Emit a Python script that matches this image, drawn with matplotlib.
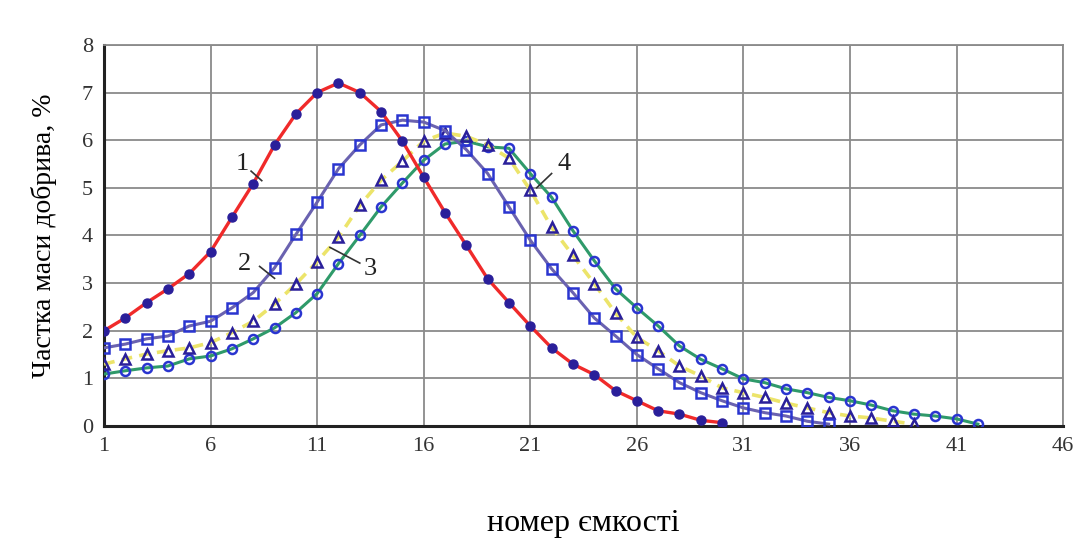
import matplotlib
matplotlib.use("Agg")
import matplotlib.pyplot as plt

plt.rcParams['font.family'] = ['Liberation Serif', 'DejaVu Serif']

# curve 1
x1 = list(range(1, 31))
y1 = [2.0, 2.27, 2.59, 2.88, 3.2, 3.66, 4.38, 5.09, 5.9, 6.55,
      7.0, 7.2, 7.0, 6.6, 5.98, 5.22, 4.48, 3.79, 3.09, 2.59,
      2.1, 1.64, 1.3, 1.08, 0.74, 0.53, 0.32, 0.25, 0.12, 0.07]
# curve 2
x2 = list(range(1, 36))
y2 = [1.64, 1.72, 1.83, 1.89, 2.1, 2.2, 2.48, 2.8, 3.32, 4.02,
      4.7, 5.4, 5.9, 6.32, 6.42, 6.38, 6.2, 5.8, 5.3, 4.6,
      3.9, 3.3, 2.8, 2.27, 1.89, 1.5, 1.2, 0.91, 0.7, 0.53,
      0.38, 0.28, 0.21, 0.1, 0.04]
# curve 3
x3 = list(range(1, 40))
y3 = [1.3, 1.41, 1.51, 1.58, 1.64, 1.75, 1.96, 2.2, 2.56, 2.98,
      3.45, 3.96, 4.63, 5.16, 5.56, 5.98, 6.15, 6.08, 5.9, 5.62,
      4.95, 4.17, 3.58, 2.99, 2.37, 1.86, 1.58, 1.26, 1.05, 0.8,
      0.7, 0.6, 0.48, 0.38, 0.28, 0.21, 0.17, 0.1, 0.04]
# curve 4
x4 = list(range(1, 43))
y4 = [1.09, 1.16, 1.22, 1.26, 1.41, 1.47, 1.62, 1.83, 2.06, 2.38,
      2.78, 3.41, 4.0, 4.6, 5.1, 5.58, 5.92, 5.98, 5.86, 5.83,
      5.3, 4.8, 4.1, 3.47, 2.88, 2.48, 2.1, 1.68, 1.4, 1.2,
      0.99, 0.91, 0.78, 0.7, 0.6, 0.53, 0.44, 0.32, 0.25, 0.21,
      0.15, 0.04]

xticks = [1, 6, 11, 16, 21, 26, 31, 36, 41, 46]
yticks = [0, 1, 2, 3, 4, 5, 6, 7, 8]

fig = plt.figure(figsize=(10.78, 5.54), dpi=100)
ax = fig.add_axes([0.0965, 0.231, 0.8897, 0.688])

navy = '#2a1f9a'
blue = '#2a35d0'

ax.plot(x4, y4, color='#2f9a6a', lw=2.2, marker='o', ms=6.5, mfc='none',
        mec=blue, mew=1.8, zorder=3)
ax.plot(x3, y3, color='#ece46a', lw=2.6, ls=(0, (3, 2)), marker='^', ms=6.5,
        mfc='none', mec=navy, mew=1.8, zorder=4)
ax.plot(x2, y2, color='#6a62b0', lw=2.2, marker='s', ms=6.5, mfc='none',
        mec=blue, mew=1.8, zorder=5)
ax.plot(x1, y1, color='#f02a2a', lw=2.4, marker='o', ms=6.5, mfc=navy,
        mec=navy, zorder=6)

ax.set_xlim(1, 46)
ax.set_ylim(0, 8)
ax.set_xticks(xticks)
ax.set_yticks(yticks)
ax.grid(True, color='#8a8a8a', lw=1.3)
ax.set_axisbelow(True)
ax.tick_params(length=0, labelsize=16, colors='#333333', pad=8)

for s in ['top', 'right']:
    ax.spines[s].set_color('#8a8a8a')
    ax.spines[s].set_linewidth(1.3)
for s in ['left', 'bottom']:
    ax.spines[s].set_color('#222222')
    ax.spines[s].set_linewidth(2.2)

# curve numbers with leader lines
lbl = [('1', 7.5, 5.5, 7.9, 5.35, 8.4, 5.15),
       ('2', 7.6, 3.4, 8.3, 3.35, 9.0, 3.1),
       ('3', 13.5, 3.3, 11.6, 3.75, 13.0, 3.42),
       ('4', 22.6, 5.5, 22.0, 5.3, 21.3, 5.0)]
for t, tx, ty, ax0, ay0, ax1, ay1 in lbl:
    ax.text(tx, ty, t, fontsize=19, ha='center', va='center', color='#222222', zorder=8)
    ax.plot([ax0, ax1], [ay0, ay1], color='#333333', lw=1.2, zorder=7)

ax.set_xlabel('номер ємкості', fontsize=23, labelpad=38)
ax.set_ylabel('Частка маси добрива, %', fontsize=20, labelpad=18)

fig.savefig('out.png', dpi=100)
